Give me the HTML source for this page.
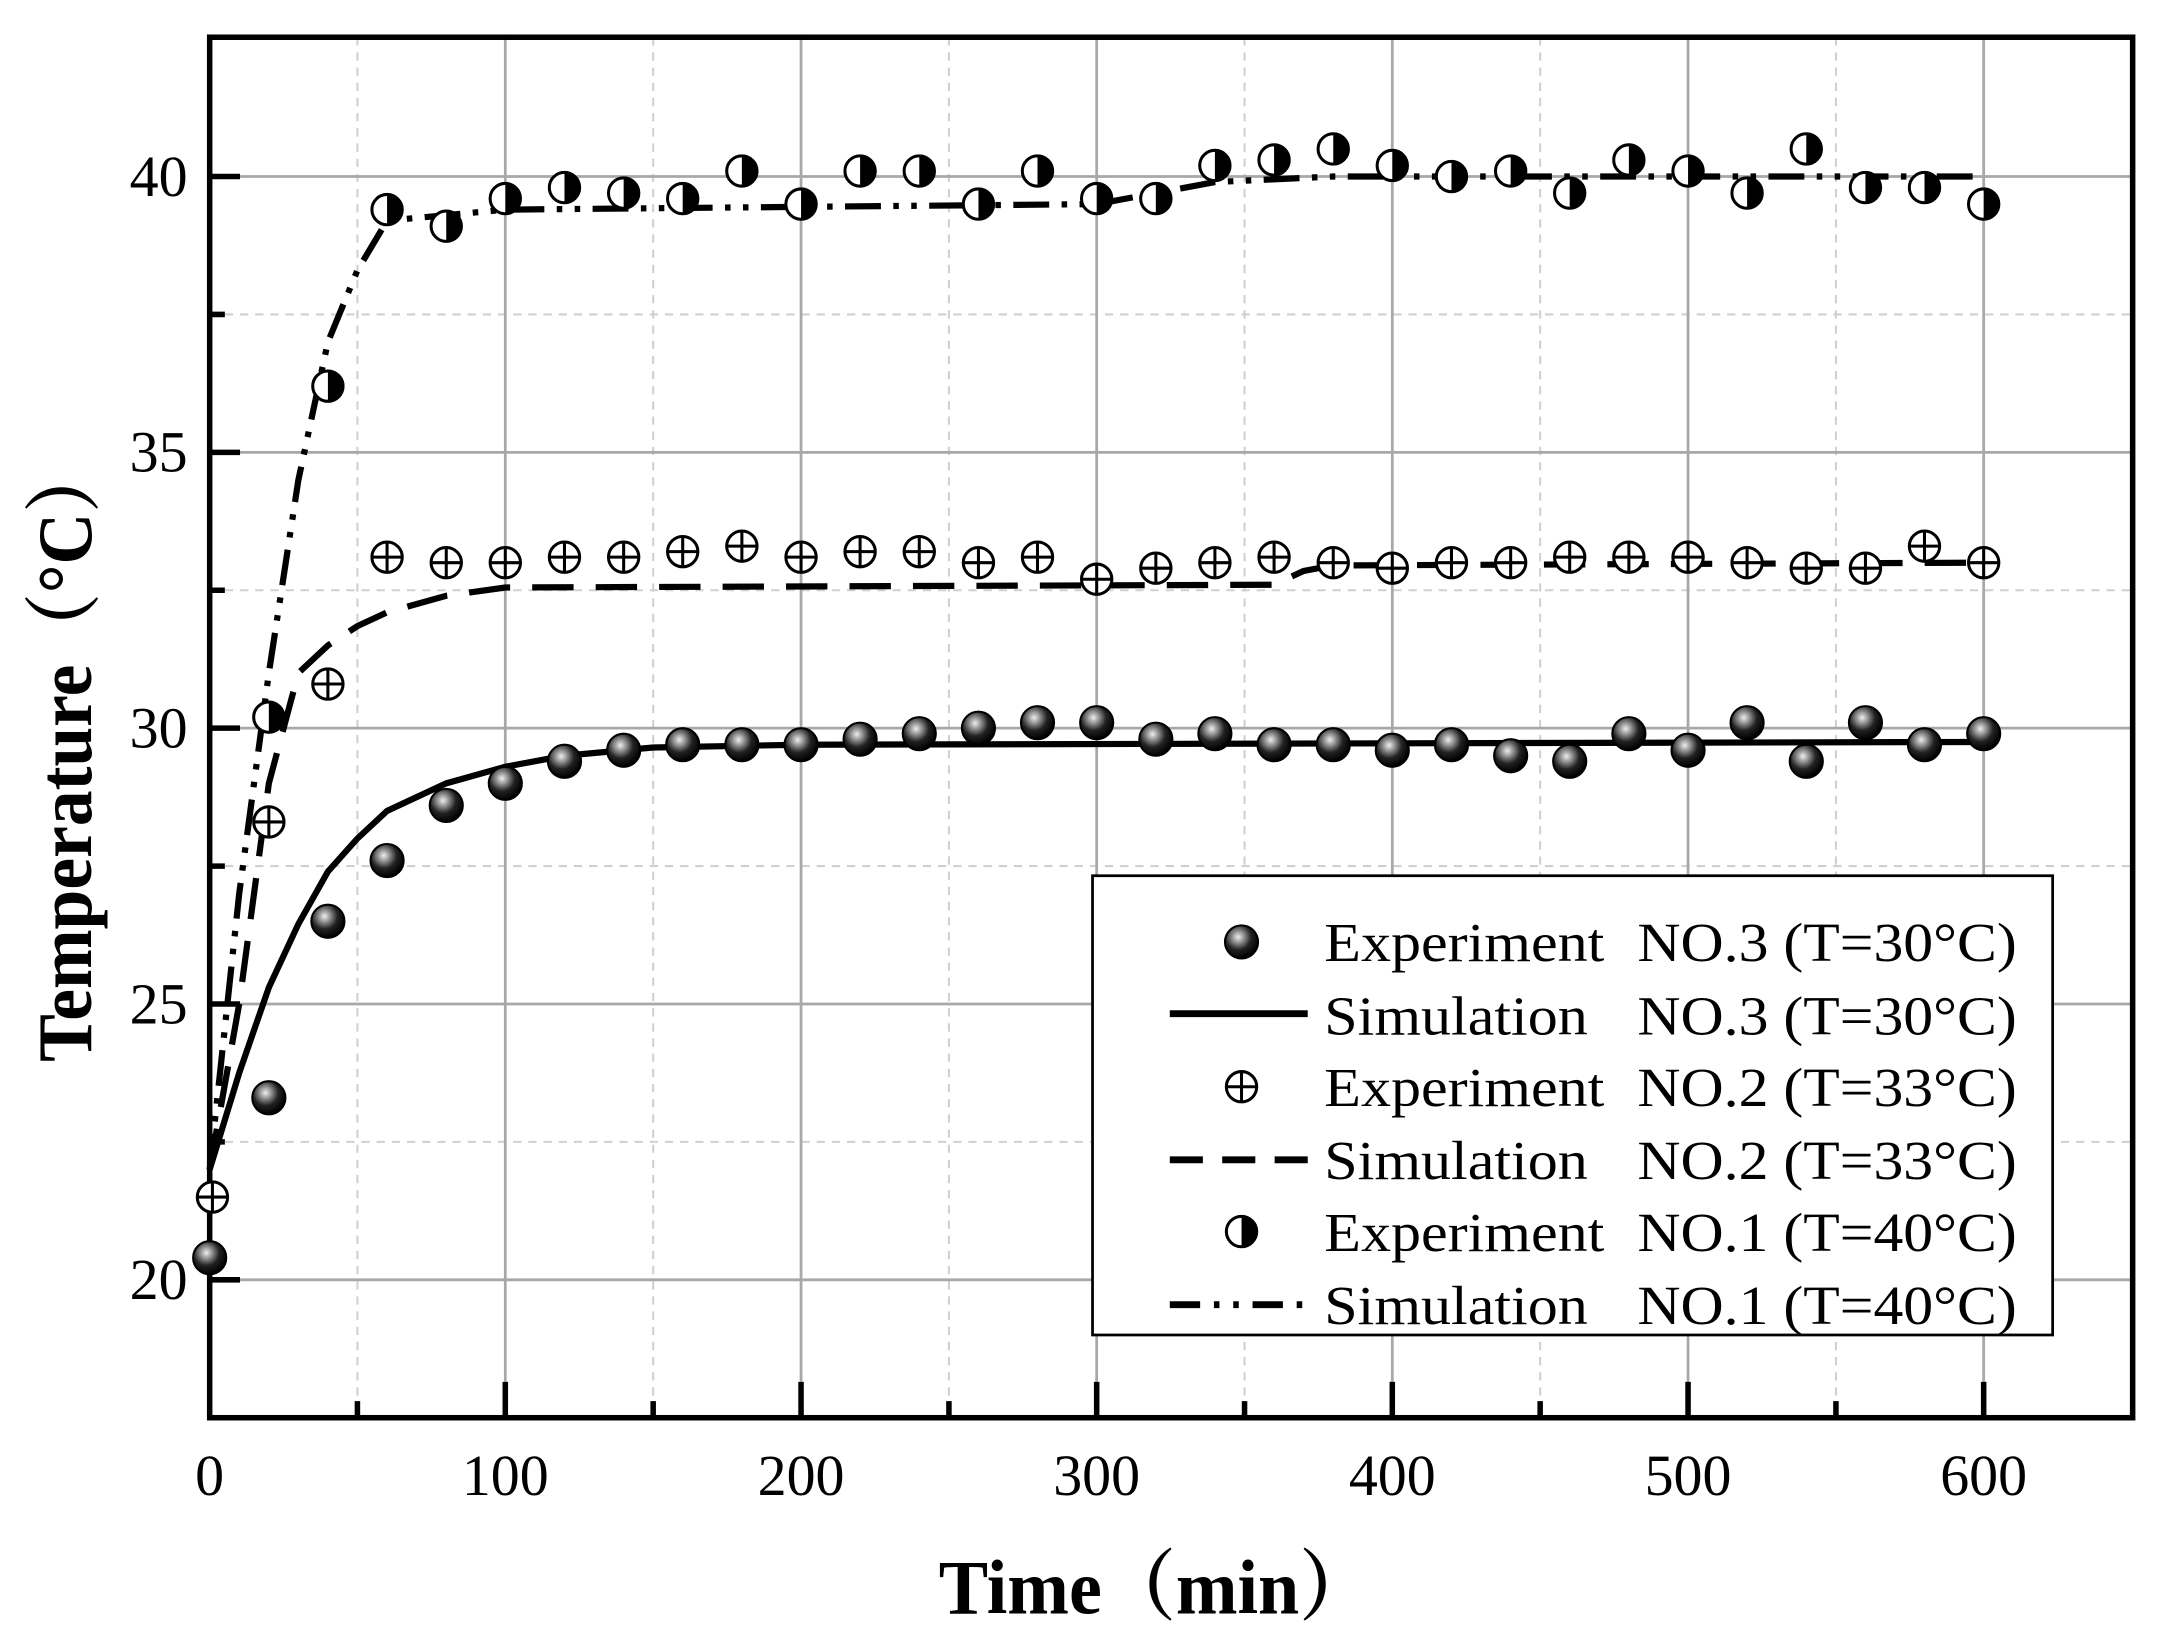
<!DOCTYPE html>
<html><head><meta charset="utf-8"><style>html,body{margin:0;padding:0;background:#fff}svg{display:block}</style></head>
<body>
<svg width="2163" height="1637" viewBox="0 0 1568 1187" preserveAspectRatio="none" xmlns="http://www.w3.org/2000/svg" font-family="Liberation Serif, serif">
<defs>
<radialGradient id="sph" cx="0.4" cy="0.35" r="0.65">
<stop offset="0" stop-color="#eee"/><stop offset="0.25" stop-color="#999"/><stop offset="0.6" stop-color="#222"/><stop offset="1" stop-color="#000"/>
</radialGradient>
<g id="m3"><circle r="12" fill="url(#sph)" stroke="#000" stroke-width="1.5"/></g>
<g id="m2"><circle r="11" fill="#fff" stroke="#000" stroke-width="2.2"/><path d="M-11 0H11M0 -11V11" stroke="#000" stroke-width="2.2"/></g>
<g id="m1"><circle r="11" fill="#fff" stroke="#000" stroke-width="2.2"/><path d="M0 -11A11 11 0 0 1 0 11Z" fill="#000"/></g>
</defs>
<rect width="1568" height="1187" fill="#fff"/>
<g stroke="#d0d0d0" stroke-width="1.5" stroke-dasharray="6 5">
<path d="M259.1 27V1028M473.5 27V1028M687.9 27V1028M902.2 27V1028M1116.5 27V1028M1330.9 27V1028"/>
<path d="M152 228H1546M152 428H1546M152 628H1546M152 828H1546"/>
</g>
<g stroke="#a8a8a8" stroke-width="2">
<path d="M366.3 27V1028M580.7 27V1028M795 27V1028M1009.3 27V1028M1223.7 27V1028M1438 27V1028"/>
<path d="M152 128H1546M152 328H1546M152 528H1546M152 728H1546M152 928H1546"/>
</g>
<g stroke="#000" stroke-width="4">
<path d="M259.1 1028v-12M473.5 1028v-12M687.9 1028v-12M902.2 1028v-12M1116.5 1028v-12M1330.9 1028v-12"/>
<path d="M366.3 1028v-26M580.7 1028v-26M795 1028v-26M1009.3 1028v-26M1223.7 1028v-26M1438 1028v-26"/>
<path d="M152 128h22M152 328h22M152 528h22M152 728h22M152 928h22M152 228h11M152 428h11M152 628h11M152 828h11"/>
</g>
<g fill="none" stroke="#000" stroke-width="4.5">
<polyline points="152,848 173.4,778 194.9,716 216.3,670 237.7,632 259.1,608 280.6,588 323.5,568 366.3,556 409.2,548 473.5,542 580.7,540 1438,538"/>
<polyline stroke-dasharray="30 16" points="152,848 173.4,728 194.9,568 216.3,488 237.7,468 259.1,454 280.6,444 323.5,432 366.3,426 923.6,424 945,414 966.5,410 1438,408"/>
<polyline stroke-dasharray="26 9 4 9 4 9" points="152,848 173.4,648 194.9,488 216.3,348 237.7,248 259.1,196 280.6,160 323.5,156 366.3,152 795,148 880.7,132 966.5,128 1438,128"/>
</g>
<rect x="152" y="27" width="1394" height="1001" fill="none" stroke="#000" stroke-width="4"/>
<g>
<use href="#m3" x="152" y="912"/><use href="#m3" x="194.9" y="796"/><use href="#m3" x="237.7" y="668"/><use href="#m3" x="280.6" y="624"/><use href="#m3" x="323.5" y="584"/><use href="#m3" x="366.3" y="568"/><use href="#m3" x="409.2" y="552"/><use href="#m3" x="452.1" y="544"/><use href="#m3" x="494.9" y="540"/><use href="#m3" x="537.8" y="540"/><use href="#m3" x="580.7" y="540"/><use href="#m3" x="623.5" y="536"/><use href="#m3" x="666.4" y="532"/><use href="#m3" x="709.3" y="528"/><use href="#m3" x="752.1" y="524"/><use href="#m3" x="795" y="524"/><use href="#m3" x="837.9" y="536"/><use href="#m3" x="880.7" y="532"/><use href="#m3" x="923.6" y="540"/><use href="#m3" x="966.5" y="540"/><use href="#m3" x="1009.3" y="544"/><use href="#m3" x="1052.2" y="540"/><use href="#m3" x="1095.1" y="548"/><use href="#m3" x="1137.9" y="552"/><use href="#m3" x="1180.8" y="532"/><use href="#m3" x="1223.7" y="544"/><use href="#m3" x="1266.5" y="524"/><use href="#m3" x="1309.4" y="552"/><use href="#m3" x="1352.3" y="524"/><use href="#m3" x="1395.1" y="540"/><use href="#m3" x="1438" y="532"/>
</g>
<g>
<use href="#m2" x="154" y="868"/><use href="#m2" x="194.9" y="596"/><use href="#m2" x="237.7" y="496"/><use href="#m2" x="280.6" y="404"/><use href="#m2" x="323.5" y="408"/><use href="#m2" x="366.3" y="408"/><use href="#m2" x="409.2" y="404"/><use href="#m2" x="452.1" y="404"/><use href="#m2" x="494.9" y="400"/><use href="#m2" x="537.8" y="396"/><use href="#m2" x="580.7" y="404"/><use href="#m2" x="623.5" y="400"/><use href="#m2" x="666.4" y="400"/><use href="#m2" x="709.3" y="408"/><use href="#m2" x="752.1" y="404"/><use href="#m2" x="795" y="420"/><use href="#m2" x="837.9" y="412"/><use href="#m2" x="880.7" y="408"/><use href="#m2" x="923.6" y="404"/><use href="#m2" x="966.5" y="408"/><use href="#m2" x="1009.3" y="412"/><use href="#m2" x="1052.2" y="408"/><use href="#m2" x="1095.1" y="408"/><use href="#m2" x="1137.9" y="404"/><use href="#m2" x="1180.8" y="404"/><use href="#m2" x="1223.7" y="404"/><use href="#m2" x="1266.5" y="408"/><use href="#m2" x="1309.4" y="412"/><use href="#m2" x="1352.3" y="412"/><use href="#m2" x="1395.1" y="396"/><use href="#m2" x="1438" y="408"/>
</g>
<g>
<use href="#m1" x="194.9" y="520"/><use href="#m1" x="237.7" y="280"/><use href="#m1" x="280.6" y="152"/><use href="#m1" x="323.5" y="164"/><use href="#m1" x="366.3" y="144"/><use href="#m1" x="409.2" y="136"/><use href="#m1" x="452.1" y="140"/><use href="#m1" x="494.9" y="144"/><use href="#m1" x="537.8" y="124"/><use href="#m1" x="580.7" y="148"/><use href="#m1" x="623.5" y="124"/><use href="#m1" x="666.4" y="124"/><use href="#m1" x="709.3" y="148"/><use href="#m1" x="752.1" y="124"/><use href="#m1" x="795" y="144"/><use href="#m1" x="837.9" y="144"/><use href="#m1" x="880.7" y="120"/><use href="#m1" x="923.6" y="116"/><use href="#m1" x="966.5" y="108"/><use href="#m1" x="1009.3" y="120"/><use href="#m1" x="1052.2" y="128"/><use href="#m1" x="1095.1" y="124"/><use href="#m1" x="1137.9" y="140"/><use href="#m1" x="1180.8" y="116"/><use href="#m1" x="1223.7" y="124"/><use href="#m1" x="1266.5" y="140"/><use href="#m1" x="1309.4" y="108"/><use href="#m1" x="1352.3" y="136"/><use href="#m1" x="1395.1" y="136"/><use href="#m1" x="1438" y="148"/>
</g>
<rect x="792" y="635" width="696" height="333" fill="#fff" stroke="#000" stroke-width="2"/>
<use href="#m3" x="900" y="683"/>
<path d="M848 735H948" stroke="#000" stroke-width="5"/>
<use href="#m2" x="900" y="788"/>
<path d="M848 841H948" stroke="#000" stroke-width="5" stroke-dasharray="24 14"/>
<use href="#m1" x="900" y="893"/>
<path d="M848 946H948" stroke="#000" stroke-width="5" stroke-dasharray="22 10 4 10 4 10"/>
<g font-size="40" fill="#000">
<text x="960" y="697" textLength="203" lengthAdjust="spacingAndGlyphs">Experiment</text>
<text x="960" y="750" textLength="191" lengthAdjust="spacingAndGlyphs">Simulation</text>
<text x="960" y="802" textLength="203" lengthAdjust="spacingAndGlyphs">Experiment</text>
<text x="960" y="855" textLength="191" lengthAdjust="spacingAndGlyphs">Simulation</text>
<text x="960" y="907" textLength="203" lengthAdjust="spacingAndGlyphs">Experiment</text>
<text x="960" y="960" textLength="191" lengthAdjust="spacingAndGlyphs">Simulation</text>
<text x="1187" y="697" textLength="275" lengthAdjust="spacingAndGlyphs">NO.3 (T=30°C)</text>
<text x="1187" y="750" textLength="275" lengthAdjust="spacingAndGlyphs">NO.3 (T=30°C)</text>
<text x="1187" y="802" textLength="275" lengthAdjust="spacingAndGlyphs">NO.2 (T=33°C)</text>
<text x="1187" y="855" textLength="275" lengthAdjust="spacingAndGlyphs">NO.2 (T=33°C)</text>
<text x="1187" y="907" textLength="275" lengthAdjust="spacingAndGlyphs">NO.1 (T=40°C)</text>
<text x="1187" y="960" textLength="275" lengthAdjust="spacingAndGlyphs">NO.1 (T=40°C)</text>
</g>
<g font-size="42" fill="#000" text-anchor="middle">
<text x="152" y="1084">0</text><text x="366.3" y="1084">100</text><text x="580.7" y="1084">200</text><text x="795" y="1084">300</text><text x="1009.3" y="1084">400</text><text x="1223.7" y="1084">500</text><text x="1438" y="1084">600</text>
</g>
<g font-size="42" fill="#000" text-anchor="end">
<text x="136" y="142">40</text><text x="136" y="342">35</text><text x="136" y="542">30</text><text x="136" y="742">25</text><text x="136" y="942">20</text>
</g>
<text x="838" y="1170" font-size="56" font-weight="bold" text-anchor="middle" textLength="315" lengthAdjust="spacingAndGlyphs" font-family="Liberation Serif, Noto Serif CJK SC, serif">Time（min）</text>
<text transform="translate(66 545) rotate(-90)" font-size="56" font-weight="bold" text-anchor="middle" textLength="450" lengthAdjust="spacingAndGlyphs" font-family="Liberation Serif, Noto Serif CJK SC, serif">Temperature（°C）</text>
</svg>
</body></html>
